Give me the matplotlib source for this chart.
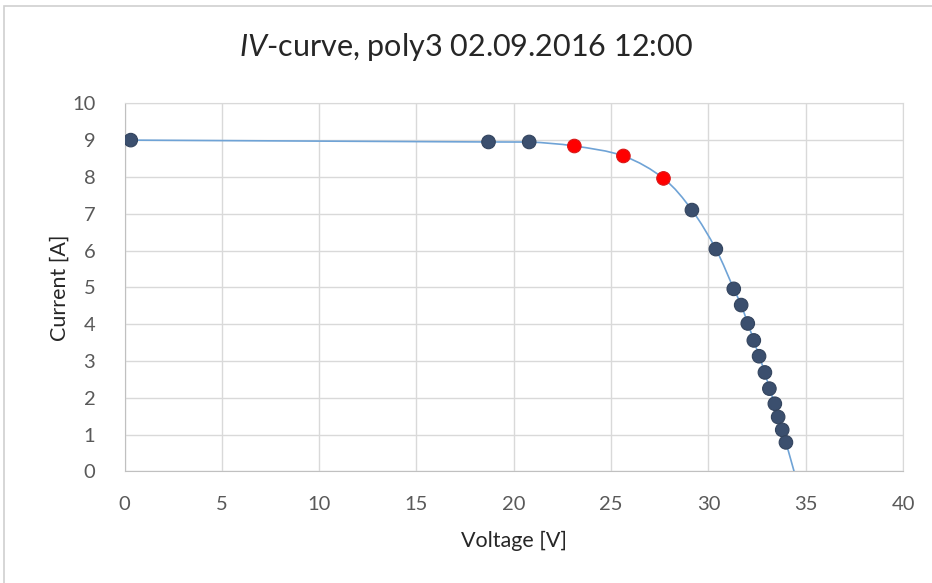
import numpy as np
import matplotlib
matplotlib.use("Agg")
import matplotlib.pyplot as plt
from matplotlib.path import Path
from matplotlib.patches import PathPatch, Rectangle

plt.rcParams['font.family'] = ['Lato', 'DejaVu Sans']
plt.rcParams['mathtext.fontset'] = 'custom'
plt.rcParams['mathtext.rm'] = 'Lato'
plt.rcParams['mathtext.it'] = 'Lato:italic'

# measured points
voltage = [0.32, 18.7, 20.79, 23.11, 25.63, 27.69, 29.15, 30.38, 31.3, 31.68,
           32.02, 32.33, 32.6, 32.9, 33.13, 33.41, 33.58, 33.79, 33.98]
current = [9.0, 8.95, 8.95, 8.84, 8.57, 7.96, 7.10, 6.04, 4.96, 4.52,
           4.02, 3.56, 3.13, 2.69, 2.25, 1.84, 1.48, 1.13, 0.79]
red_idx = [3, 4, 5]
# open circuit end of the trend line
voc = 34.4

xticks = [0, 5, 10, 15, 20, 25, 30, 35, 40]
yticks = [0, 1, 2, 3, 4, 5, 6, 7, 8, 9, 10]

def smooth_path(xs, ys, t=1/6):
    # catmull-rom style bezier, like excel's smoothed line
    pts = np.column_stack([xs, ys])
    verts = [pts[0]]
    codes = [Path.MOVETO]
    n = len(pts)
    for i in range(n - 1):
        p0 = pts[i - 1] if i > 0 else pts[i]
        p1 = pts[i]
        p2 = pts[i + 1]
        p3 = pts[i + 2] if i + 2 < n else pts[i + 1]
        c1 = p1 + (p2 - p0) * t
        c2 = p2 - (p3 - p1) * t
        verts += [c1, c2, p2]
        codes += [Path.CURVE4] * 3
    return Path(verts, codes)

fig = plt.figure(figsize=(9.32, 5.83), dpi=100)
ax = fig.add_axes([0.1336, 0.1913, 0.969 - 0.1336, 0.8228 - 0.1913])

fig.patches.append(Rectangle((4 / 932, -0.1), 1.2, 1 - 6 / 583 + 0.1, transform=fig.transFigure,
                             fill=False, edgecolor='#d0d0d0', linewidth=1.2))

line_x = voltage + [voc]
line_y = current + [0.0]
ax.add_patch(PathPatch(smooth_path(line_x, line_y), fill=False, edgecolor='#6fa3d6',
                       linewidth=1.2, zorder=3))

colors = ['#ff0000' if i in red_idx else '#3b4f6e' for i in range(len(voltage))]
edges = ['#d81818' if i in red_idx else '#33445e' for i in range(len(voltage))]
ax.scatter(voltage, current, s=95, c=colors, edgecolors=edges, linewidths=0.8, zorder=4)

ax.set_xlim(0, 40)
ax.set_ylim(0, 10)
ax.set_xticks(xticks)
ax.set_yticks(yticks)
ax.grid(True, color='#d9d9d9', linewidth=1.0)
ax.set_axisbelow(True)
for s in ['top', 'right']:
    ax.spines[s].set_color('#d9d9d9')
for s in ['left', 'bottom']:
    ax.spines[s].set_color('#c0c0c0')
ax.tick_params(length=0, labelsize=14.5, labelcolor='#595959')
ax.tick_params(axis='x', pad=18)
ax.tick_params(axis='y', pad=21)

ax.set_xlabel('Voltage [V]', fontsize=15.5, color='#262626')
ax.set_ylabel('Current [A]', fontsize=15.5, color='#262626')
ax.xaxis.set_label_coords(0.5, -0.162)
ax.yaxis.set_label_coords(-0.071, 0.5)
fig.text(0.5, 0.919, r'$\it{IV}$-curve, poly3 02.09.2016 12:00', ha='center', va='center',
         fontsize=22, color='#262626')

fig.savefig('out.png', dpi=100)
